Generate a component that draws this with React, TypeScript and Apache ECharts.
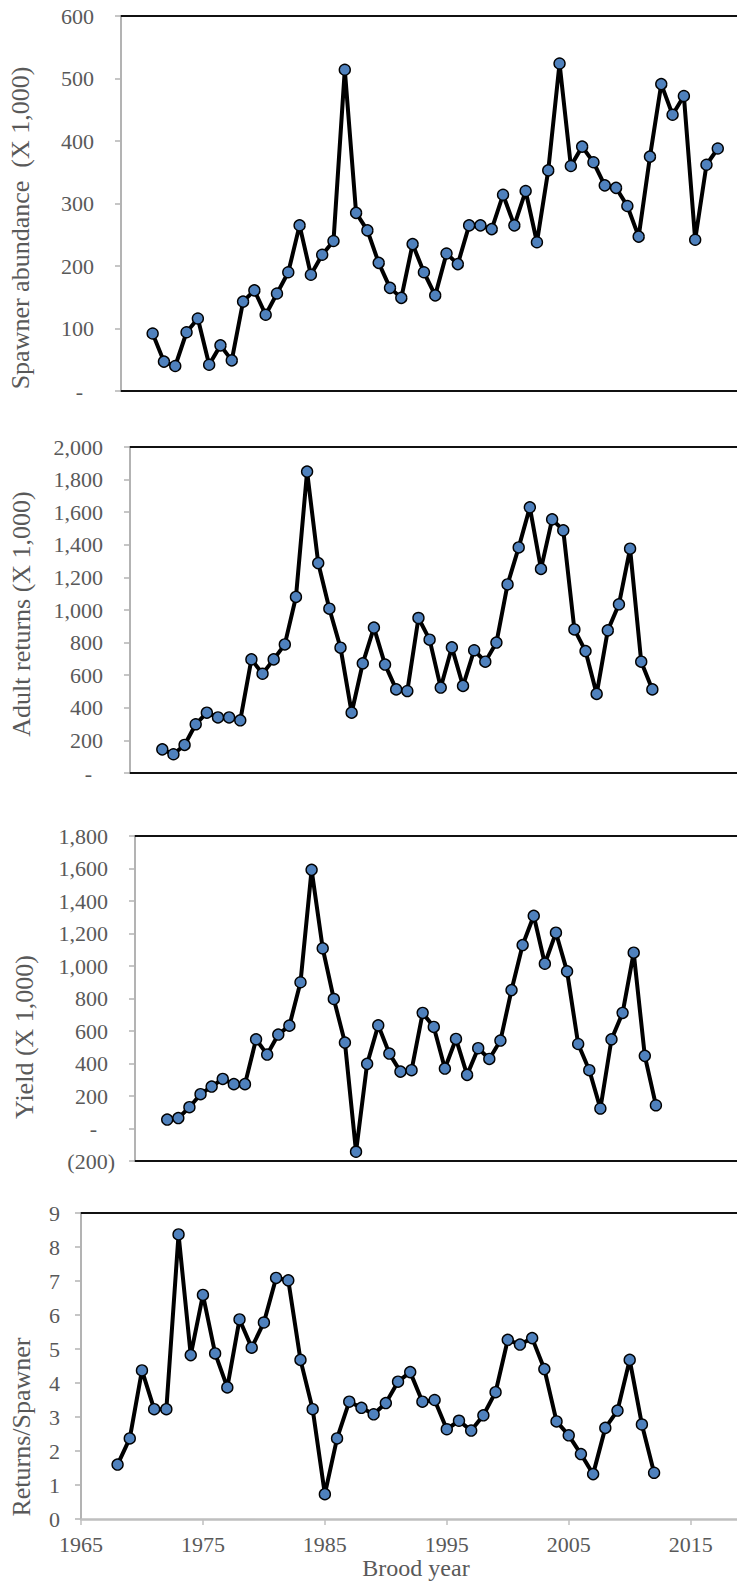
import React, { useEffect, useRef } from "react";
import * as echarts from "echarts";

// Brood years
const spawnerYears = [
  1968, 1969, 1970, 1971, 1972, 1973, 1974, 1975, 1976, 1977,
  1978, 1979, 1980, 1981, 1982, 1983, 1984, 1985, 1986, 1987,
  1988, 1989, 1990, 1991, 1992, 1993, 1994, 1995, 1996, 1997,
  1998, 1999, 2000, 2001, 2002, 2003, 2004, 2005, 2006, 2007,
  2008, 2009, 2010, 2011, 2012, 2013, 2014, 2015, 2016, 2017, 2018,
];
const broodYears = [
  1968, 1969, 1970, 1971, 1972, 1973, 1974, 1975, 1976, 1977,
  1978, 1979, 1980, 1981, 1982, 1983, 1984, 1985, 1986, 1987,
  1988, 1989, 1990, 1991, 1992, 1993, 1994, 1995, 1996, 1997,
  1998, 1999, 2000, 2001, 2002, 2003, 2004, 2005, 2006, 2007,
  2008, 2009, 2010, 2011, 2012,
];

// Spawner abundance (X 1,000)
const spawners = [
  92, 47, 40, 94, 116, 42, 73, 49, 143, 161,
  122, 156, 190, 265, 186, 218, 240, 514, 285, 257,
  205, 165, 149, 235, 190, 153, 220, 203, 265, 265,
  259, 314, 265, 320, 238, 353, 524, 360, 391, 366,
  329, 325, 296, 247, 375, 491, 442, 472, 242, 362, 388,
];
// Adult returns (X 1,000)
const adultReturns = [
  145, 115, 172, 299, 370, 341, 341, 323, 697, 609,
  697, 789, 1080, 1849, 1288, 1008, 769, 370, 673, 892,
  665, 513, 503, 951, 818, 524, 771, 534, 753, 683,
  800, 1157, 1384, 1630, 1252, 1556, 1489, 881, 748, 485,
  875, 1035, 1376, 683, 513,
];
// Yield (X 1,000)
const yieldVals = [
  55, 64, 131, 211, 258, 305, 273, 273, 549, 455,
  578, 633, 900, 1592, 1109, 797, 529, -143, 398, 635,
  461, 350, 359, 711, 625, 369, 551, 330, 494, 428,
  541, 852, 1129, 1309, 1014, 1205, 967, 520, 359, 123,
  549, 711, 1082, 447, 143,
];
// Returns per spawner
const returnsPerSpawner = [
  1.6, 2.37, 4.37, 3.23, 3.23, 8.37, 4.82, 6.59, 4.87, 3.87,
  5.87, 5.04, 5.78, 7.09, 7.02, 4.68, 3.23, 0.73, 2.37, 3.45,
  3.27, 3.08, 3.41, 4.04, 4.32, 3.45, 3.5, 2.64, 2.89, 2.6,
  3.05, 3.73, 5.27, 5.13, 5.32, 4.41, 2.87, 2.46, 1.91, 1.32,
  2.68, 3.19, 4.68, 2.78, 1.36,
];
const xTickYears = [1965, 1975, 1985, 1995, 2005, 2015];

const titles = [
  "Spawner abundance  (X 1,000)",
  "Adult returns (X 1,000)",
  "Yield (X 1,000)",
  "Returns/Spawner",
];
const xTitle = "Brood year";

const FONT = '"Liberation Serif", "Times New Roman", serif';
const LABEL = "#595959";
const AXIS_GRAY = "#b3b3b3";

const accounting = (v: number) => {
  if (v === 0) return "{z|-}";
  if (v < 0) return "{n|(" + Math.abs(v).toLocaleString("en-US") + ")}";
  return "{p|" + v.toLocaleString("en-US") + "}";
};
const richBase = { fontSize: 22, fontFamily: FONT, color: LABEL };
const accRich = {
  p: { ...richBase, padding: [0, 7, 0, 0] },
  z: { ...richBase, padding: [0, 18, 0, 0] },
  n: { ...richBase },
};

export default function App() {
  const ref = useRef<HTMLDivElement>(null);
  useEffect(() => {
    if (!ref.current) return;
    const chart = echarts.init(ref.current, undefined, { renderer: "svg" });

    const grids = [
      { left: 121, top: 16, right: 0, height: 375 },
      { left: 130, top: 447, right: 0, height: 326 },
      { left: 135, top: 836, right: 0, height: 325 },
      { left: 81, top: 1213, right: 0, height: 306 },
    ];
    const xRanges = [
      [1965.2, 2019.7],
      [1965.1, 2019.6],
      [1965.1, 2019.3],
      [1965, 2018.8],
    ];
    const yCfg = [
      { min: 0, max: 600, interval: 100 },
      { min: 0, max: 2000, interval: 200 },
      { min: -200, max: 1800, interval: 200 },
      { min: 0, max: 9, interval: 1 },
    ];

    const xAxes: any[] = [];
    grids.forEach((_, i) => {
      const isLast = i === 3;
      xAxes.push({
        type: "value",
        gridIndex: i,
        position: "bottom",
        min: xRanges[i][0],
        max: xRanges[i][1],
        splitLine: { show: false },
        axisLine: {
          show: true,
          onZero: false,
          lineStyle: { color: isLast ? "#bfbfbf" : "#111", width: isLast ? 2.5 : 2 },
        },
        axisTick: isLast
          ? { show: true, customValues: xTickYears, length: 6, lineStyle: { color: "#bfbfbf", width: 1.5 } }
          : { show: false },
        axisLabel: isLast
          ? {
              show: true,
              customValues: xTickYears,
              margin: 14,
              fontSize: 22,
              fontFamily: FONT,
              color: LABEL,
              formatter: (v: number) => String(Math.round(v)),
            }
          : { show: false },
      });
      xAxes.push({
        type: "value",
        gridIndex: i,
        position: "top",
        min: xRanges[i][0],
        max: xRanges[i][1],
        splitLine: { show: false },
        axisLine: { show: true, onZero: false, lineStyle: { color: "#111", width: 2 } },
        axisTick: { show: false },
        axisLabel: { show: false },
      });
    });

    const yAxes = grids.map((_, i) => ({
      type: "value",
      gridIndex: i,
      min: yCfg[i].min,
      max: yCfg[i].max,
      interval: yCfg[i].interval,
      splitLine: { show: false },
      axisLine: { show: true, onZero: false, lineStyle: { color: AXIS_GRAY, width: 2 } },
      axisTick: { show: true, length: 6, lineStyle: { color: AXIS_GRAY, width: 1.5 } },
      axisLabel:
        i === 3
          ? { margin: 21, fontSize: 22, fontFamily: FONT, color: LABEL }
          : { margin: 20, formatter: accounting, rich: accRich, fontSize: 22, fontFamily: FONT, color: LABEL },
    }));

    const mk = (years: number[], vals: number[], i: number) => ({
      type: "line",
      xAxisIndex: i * 2,
      yAxisIndex: i,
      data: years.map((y, k) => [y, vals[k]]),
      symbol: "circle",
      symbolSize: 11,
      showSymbol: true,
      itemStyle: { color: "#4f81bd", borderColor: "#000", borderWidth: 1.4 },
      lineStyle: { color: "#000", width: 4 },
      clip: false,
      z: 3,
    });

    const titlePos = [
      [20, 228],
      [21, 614],
      [24, 1037],
      [21, 1427],
    ];

    chart.setOption({
      animation: false,
      grid: grids,
      xAxis: xAxes,
      yAxis: yAxes,
      series: [
        mk(spawnerYears, spawners, 0),
        mk(broodYears, adultReturns, 1),
        mk(broodYears, yieldVals, 2),
        mk(broodYears, returnsPerSpawner, 3),
      ],
      graphic: [
        ...titles.map((t, i) => ({
          type: "text",
          x: titlePos[i][0],
          y: titlePos[i][1],
          rotation: Math.PI / 2,
          style: {
            text: t,
            fontSize: 26,
            fontFamily: FONT,
            fill: LABEL,
            align: "center",
            verticalAlign: "middle",
            textAlign: "center",
            textVerticalAlign: "middle",
          },
        })),
        {
          type: "text",
          x: 416,
          y: 1568,
          style: {
            text: xTitle,
            fontSize: 24,
            fontFamily: FONT,
            fill: LABEL,
            align: "center",
            verticalAlign: "middle",
            textAlign: "center",
            textVerticalAlign: "middle",
          },
        },
      ],
    });
    return () => chart.dispose();
  }, []);
  return (
    <div
      ref={ref}
      style={{ position: "absolute", left: 0, top: 0, width: 737, height: 1581 }}
    />
  );
}
